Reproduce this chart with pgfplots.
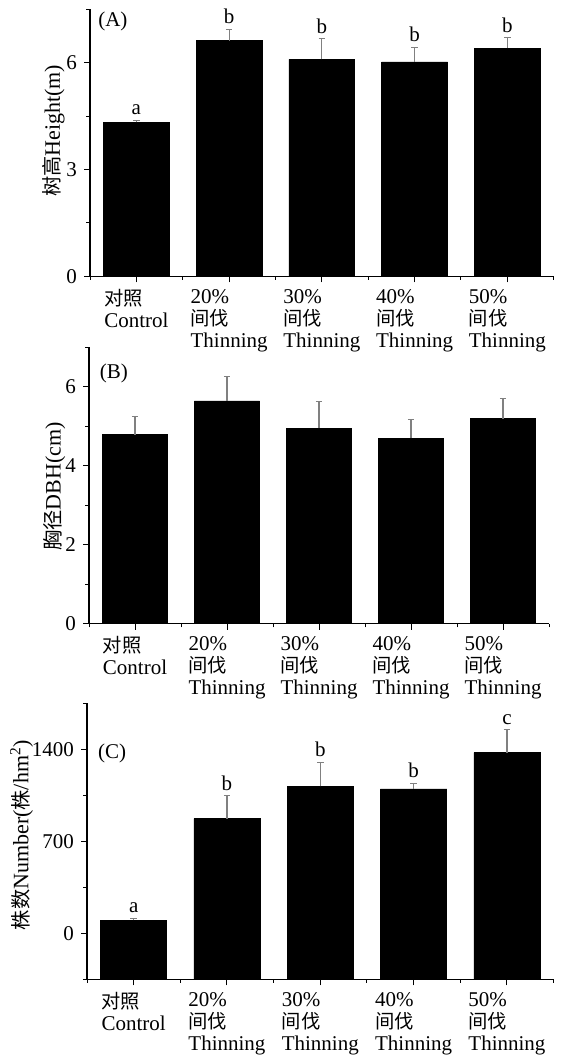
\documentclass[border=0pt]{standalone}
\usepackage{pgfplots}
\pgfplotsset{compat=1.18}
\usepackage{pgfplotstable}
\usepackage{fontspec}
\setmainfont{Liberation Serif}
\newfontfamily\cjk[Scale=0.92]{Noto Sans CJK SC}

\pgfplotstableread{
x v e lab
0 4.32 0.06 a
1 6.62 0.32 b
2 6.09 0.58 b
3 6.02 0.41 b
4 6.41 0.29 b
}\dataA

\pgfplotstableread{
x v e
0 4.79 0.45
1 5.64 0.63
2 4.95 0.67
3 4.70 0.47
4 5.19 0.52
}\dataB

\pgfplotstableread{
x v e lab
0 100 14 a
1 873 174 b
2 1117 185 b
3 1098 42 b
4 1375 174 c
}\dataC

\pgfplotsset{
  panel/.style={
    scale only axis,
    axis lines*=left,
    axis line style={line width=0.55pt},
    tick align=outside,
    major tick length=3pt,
    minor tick length=1.8pt,
    tick style={black, line width=0.5pt},
    xmin=-0.5, xmax=4.5,
    xtick={0,1,2,3,4},
    minor xtick={-0.5,0.5,1.5,2.5,3.5,4.5},
    xticklabels={{{\cjk 对照}\\Control},{20\%\\{\cjk 间伐}\\Thinning},{30\%\\{\cjk 间伐}\\Thinning},{40\%\\{\cjk 间伐}\\Thinning},{50\%\\{\cjk 间伐}\\Thinning}},
    xticklabel style={align=left, anchor=north, font=\fontsize{10.5}{11}\selectfont},
    yticklabel style={font=\fontsize{10.5}{12}\selectfont},
    /pgf/number format/assume math mode=true,
    /pgf/number format/1000 sep={},
    clip=false,
  },
  ylab/.style={ylabel style={font=\fontsize{11}{12}\selectfont, at={(axis description cs:#1)}, anchor=center}},
  barplot/.style={ybar, bar width=0.71, bar shift=0pt, fill=black, draw=black, line width=0.3pt},
  errs/.style={error bars/.cd, y dir=plus, y explicit, error mark=|,
    error bar style={gray, line width=0.6pt},
    error mark options={gray, line width=0.6pt, mark size=1.6pt}},
  letters/.style={draw=none, nodes near coords, point meta=explicit symbolic,
    every node near coord/.style={anchor=south, yshift=2.5pt, inner sep=0pt, font=\fontsize{10.5}{12}\selectfont}},
}

\begin{document}
\begin{tikzpicture}
\useasboundingbox (0,0) rectangle (283.5pt,529pt);

% Panel A
\begin{axis}[panel, at={(45pt,390.85pt)}, anchor=south west,
  width=231.85pt, height=133.5pt,
  ymin=0, ymax=7.5, ytick={0,3,6}, minor ytick={1.5,4.5,7.5},
  ylabel={{\cjk 树高}Height(m)}, ylab={-0.078,0.545},
]
\addplot[barplot, errs] table[x=x, y=v, y error=e]{\dataA};
\addplot[letters] table[x=x, y expr=\thisrow{v}+\thisrow{e}, meta=lab]{\dataA};
\node[anchor=west, inner sep=0pt, font=\fontsize{10.5}{12}\selectfont] at (axis description cs:0.017,0.954) {(A)};
\end{axis}

% Panel B
\begin{axis}[panel, at={(44.5pt,217.15pt)}, anchor=south west,
  width=230pt, height=138.2pt,
  ymin=0, ymax=7, ytick={0,2,4,6}, minor ytick={1,3,5,7},
  ylabel={{\cjk 胸径}DBH(cm)}, ylab={-0.075,0.496},
]
\addplot[barplot, errs] table[x=x, y=v, y error=e]{\dataB};
\node[anchor=west, inner sep=0pt, font=\fontsize{10.5}{12}\selectfont] at (axis description cs:0.023,0.906) {(B)};
\end{axis}

% Panel C
\begin{axis}[panel, at={(43.5pt,39.35pt)}, anchor=south west,
  width=233.3pt, height=138pt,
  ymin=-350, ymax=1750, ytick={0,700,1400}, minor ytick={-350,350,1050,1750},
  ylabel={{\cjk 株数}Number({\cjk 株}/hm\textsuperscript{2})}, ylab={-0.14,0.523},
]
\addplot[barplot] coordinates {(0,-350) (1,-350) (2,-350) (3,-350) (4,-350)};
\addplot[barplot, errs] table[x=x, y=v, y error=e]{\dataC};
\addplot[letters] table[x=x, y expr=\thisrow{v}+\thisrow{e}, meta=lab]{\dataC};
\node[anchor=west, inner sep=0pt, font=\fontsize{10.5}{12}\selectfont] at (axis description cs:0.023,0.819) {(C)};
\end{axis}
\end{tikzpicture}
\end{document}
